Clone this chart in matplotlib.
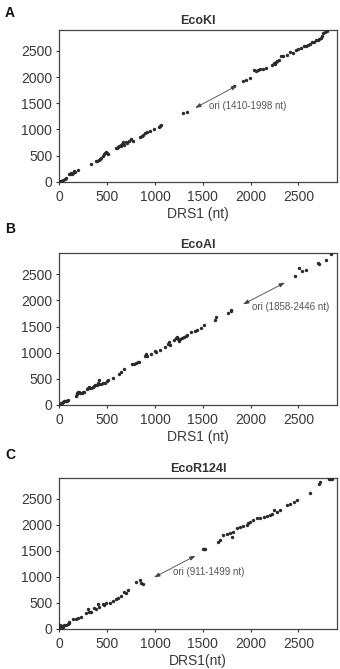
import matplotlib
matplotlib.use("Agg")
import matplotlib.pyplot as plt

plt.rcParams['font.family'] = ['Liberation Sans', 'DejaVu Sans']

# ---------------- data ----------------
titles = ["EcoKI", "EcoAI", "EcoR124I"]
letters = ["A", "B", "C"]
xlabels = ["DRS1 (nt)", "DRS1 (nt)", "DRS1(nt)"]
ticks = [0, 500, 1000, 1500, 2000, 2500]
ori_labels = ["ori (1410-1998 nt)", "ori (1858-2446 nt)", "ori (911-1499 nt)"]
ori_arrow_from = [(1420, 1410), (1920, 1925), (990, 990)]
ori_arrow_to = [(1860, 1840), (2360, 2340), (1425, 1405)]
ori_text_pos = [(1560, 1440), (2010, 1870), (1190, 1100)]

a_x = [5, 15, 25, 40, 55, 70, 100, 110, 120, 135, 145, 150, 160, 200,
       330,
       380, 395, 410, 425, 440, 455, 470, 480, 490, 500, 510,
       590, 600, 615, 625, 640, 650, 660, 670, 680, 695, 710, 725, 745, 770,
       840, 860, 880, 900, 920, 950, 990, 1040, 1050, 1060,
       1290, 1340,
       1830,
       1920, 1950, 1990, 2040, 2060, 2080, 2100, 2130, 2160,
       2220, 2240, 2260, 2270, 2280, 2300, 2320, 2340,
       2380, 2410, 2440, 2470, 2500, 2530, 2560, 2580, 2600, 2620, 2640,
       2660, 2680, 2700, 2720, 2740, 2750, 2760, 2780, 2800]
a_y = [10, 20, 15, 35, 50, 65, 150, 140, 160, 150, 175, 210, 180, 225,
       345,
       390, 400, 420, 440, 460, 490, 520, 550, 570, 550, 530,
       650, 640, 660, 690, 680, 700, 720, 750, 710, 760, 740, 770, 820, 780,
       850, 870, 900, 930, 950, 960, 1010, 1040, 1060, 1080,
       1320, 1330,
       1830,
       1930, 1950, 1990, 2140, 2110, 2130, 2160, 2150, 2180,
       2240, 2270, 2250, 2290, 2310, 2330, 2400, 2410,
       2420, 2470, 2460, 2520, 2540, 2550, 2590, 2600, 2620, 2640, 2670,
       2680, 2700, 2700, 2720, 2750, 2780, 2840, 2870, 2880]

b_x = [10, 20, 30, 40, 50, 60, 70, 80, 90,
       170, 180, 190, 200, 210, 220, 235, 250, 260,
       290, 300, 310, 320, 335, 350, 360, 375, 390, 400, 410, 420, 440, 460,
       480, 495, 510,
       560, 620, 640, 680,
       760, 780, 800, 820, 830, 900, 910, 920, 960, 1000, 1010, 1050, 1100,
       1140, 1150, 1160, 1200, 1220, 1230, 1240, 1250, 1260, 1280, 1300, 1320,
       1340, 1380, 1420, 1440, 1480, 1510,
       1630, 1640, 1760, 1790, 1800,
       2460, 2510, 2540, 2580, 2700, 2710, 2790, 2840]
b_y = [10, 30, 45, 55, 70, 75, 80, 85, 90,
       180, 210, 230, 250, 240, 230, 230, 240, 245,
       300, 330, 350, 330, 320, 340, 370, 380, 390, 420, 470, 400, 400, 420,
       430, 450, 470,
       520, 590, 640, 680,
       780, 790, 800, 820, 830, 930, 980, 940, 980, 1030, 1020, 1050, 1100,
       1160, 1200, 1150, 1240, 1280, 1300, 1270, 1230, 1260, 1280, 1300, 1320,
       1340, 1390, 1420, 1440, 1480, 1520,
       1630, 1680, 1760, 1790, 1810,
       2460, 2620, 2560, 2590, 2720, 2700, 2770, 2880]

c_x = [0, 7, 17, 28, 42, 52, 70, 87, 98, 105,
       140, 175, 200, 227,
       280, 297, 315, 332, 360, 385, 402, 420, 455, 472, 490, 525, 560, 595, 612,
       647, 672, 700, 717,
       805, 840, 857, 875,
       1498, 1512, 1522,
       1662, 1680, 1715, 1750, 1785, 1802, 1820, 1855, 1890, 1925, 1960, 1977,
       1995, 2030, 2065, 2100, 2135, 2170, 2205, 2222, 2247, 2275, 2310, 2380,
       2415, 2450, 2485, 2625, 2712, 2730, 2817, 2835, 2852]
c_y = [45, 77, 13, 57, 45, 77, 77, 96, 121, 140,
       200, 200, 220, 235,
       300, 376, 330, 319, 395, 376, 472, 427, 478, 459, 491, 504, 542, 568, 587,
       631, 714, 682, 746,
       906, 938, 874, 861,
       1525, 1538, 1532,
       1672, 1703, 1799, 1812, 1831, 1767, 1863, 1927, 1946, 1972, 1991, 2023,
       2055, 2086, 2118, 2137, 2150, 2163, 2182, 2201, 2278, 2246, 2278, 2373,
       2405, 2437, 2469, 2609, 2788, 2820, 2884, 2880, 2884]

xs = [a_x, b_x, c_x]
ys = [a_y, b_y, c_y]

# ---------------- figure ----------------
W, H = 340, 669
fig = plt.figure(figsize=(W / 100, H / 100), dpi=100)

left, right = 59.3, 336.7
boxes = [(30, 181.7), (253.3, 405), (477.7, 629)]
letter_y = [13, 229, 455]

dark = "#333333"
for i in range(3):
    top, bot = boxes[i]
    ax = fig.add_axes([left / W, 1 - bot / H, (right - left) / W, (bot - top) / H])
    ax.scatter(xs[i], ys[i], s=6, color="#2a2a2a", marker="o", linewidths=0, zorder=3)
    ax.set_xlim(0, 2900)
    ax.set_ylim(0, 2900)
    ax.set_xticks(ticks)
    ax.set_yticks(ticks)
    ax.tick_params(direction="out", length=2.5, width=0.8, pad=2.5,
                   labelsize=10, colors=dark, labelcolor="#3a3a3a")
    ax.tick_params(axis="x", pad=3.5)
    for sp in ax.spines.values():
        sp.set_color("#444444")
        sp.set_linewidth(0.9)
    ax.set_title(titles[i], fontsize=9, fontweight="bold", color="#333333", pad=4)
    ax.set_xlabel(xlabels[i], fontsize=10, color="#3a3a3a", labelpad=2)
    ax.annotate("", xy=ori_arrow_to[i], xytext=ori_arrow_from[i],
                arrowprops=dict(arrowstyle="<|-|>,head_length=0.35,head_width=0.12",
                                color="#444444", lw=0.6, shrinkA=0, shrinkB=0))
    ax.text(ori_text_pos[i][0], ori_text_pos[i][1], ori_labels[i], fontsize=7,
            color="#555555", ha="left", va="center")
    fig.text(10 / W, 1 - letter_y[i] / H, letters[i], fontsize=10, fontweight="bold",
             ha="center", va="center", color="#111111")

fig.savefig("out.png", dpi=100)
